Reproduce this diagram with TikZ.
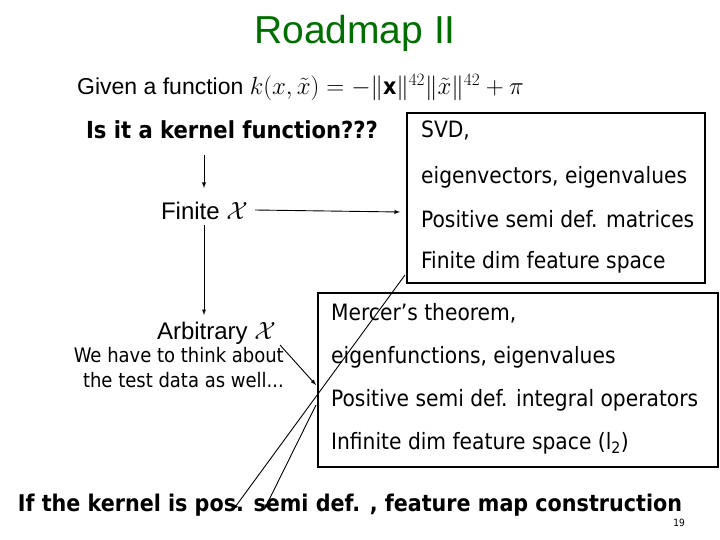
\documentclass[tikz,border=0pt]{standalone}
\usepackage{amsmath}
\usepackage{fontspec}
\setmainfont{DejaVu Sans Condensed}
\newfontfamily\slidefont{Liberation Sans}
\usepackage{tikz}
\usetikzlibrary{positioning}
\definecolor{titlegreen}{RGB}{0,110,0}
\tikzset{
    lbl/.style={inner sep=0pt, font=\fontsize{22.5}{26}\selectfont},
    boxline/.style={lbl, anchor=west},
    arr/.style={-latex, line width=0.9pt},
    frame/.style={draw, line width=1.3pt}
}
\begin{document}
\begin{tikzpicture}[x=1pt,y=-1pt]
    \useasboundingbox (0,0) rectangle (720,540);
    \node[lbl, text=titlegreen, font=\fontsize{39}{44}\selectfont\slidefont] (title) at (355,33) {Roadmap II};
    \node[lbl, anchor=west, font=\fontsize{23}{26}\selectfont\slidefont] (given) at (77,88)
        {Given a function $k(x,\tilde{x}) = -\|\mathbf{x}\|^{42}\|\tilde{x}\|^{42}+\pi$};
    \node[lbl, font=\fontsize{23.5}{26}\selectfont\bfseries] (question) at (232,130) {Is it a kernel function???};

    % finite case
    \draw[frame] (407,113) rectangle (705,283);
    \node[boxline] (svd) at (421,130) {SVD,};
    \node[boxline] (eigvec) at (421,177) {eigenvectors, eigenvalues};
    \node[boxline] (psdm) at (421,219) {Positive semi def. matrices};
    \node[boxline] (findim) at (421,262) {Finite dim feature space};

    % infinite case
    \draw[frame, fill=white] (318,293) rectangle (718,467);
    \node[boxline] (mercer) at (331,313) {Mercer’s theorem,};
    \node[boxline] (eigfun) at (331,357) {eigenfunctions, eigenvalues};
    \node[boxline] (psdo) at (331,400) {Positive semi def. integral operators};
    \node[boxline] (infdim) at (331,443) {Infinite dim feature space (l\textsubscript{2})};

    \node[lbl, anchor=east, font=\fontsize{24}{26}\selectfont\slidefont] (finite) at (248,211) {Finite $\mathcal{X}$};
    \node[lbl, anchor=east, font=\fontsize{24}{26}\selectfont\slidefont] (arbitrary) at (276,333) {Arbitrary $\mathcal{X}$};
    \node[lbl, anchor=north east, align=right, font=\fontsize{20}{25}\selectfont] (testdata) at (284,347)
        {We have to think about\\the test data as well...};
    \node[lbl, font=\fontsize{23}{26}\selectfont\bfseries] (result) at (350,505)
        {If the kernel is pos. semi def. , feature map construction};
    \node[lbl, font=\fontsize{10}{12}\selectfont] (page) at (679,523) {19};

    \coordinate (qdown) at (204,155);
    \coordinate (finin) at (204,188);
    \coordinate (finarr) at (255,210);
    \coordinate (boxin) at (400,212);
    \coordinate (fdown) at (204,225);
    \coordinate (arbin) at (204,315);
    \coordinate (arbout) at (280,345);
    \coordinate (infin) at (316,385);
    \coordinate (finout) at (405,275);
    \coordinate (resa) at (233,510);
    \coordinate (infout) at (316,405);
    \coordinate (resb) at (264,510);
    \draw[arr] (qdown) -- (finin);
    \draw[arr] (finarr) -- (boxin);
    \draw[arr] (fdown) -- (arbin);
    \draw[arr] (arbout) -- (infin);
    \draw[arr] (finout) -- (resa);
    \draw[arr] (infout) -- (resb);
\end{tikzpicture}
\end{document}
